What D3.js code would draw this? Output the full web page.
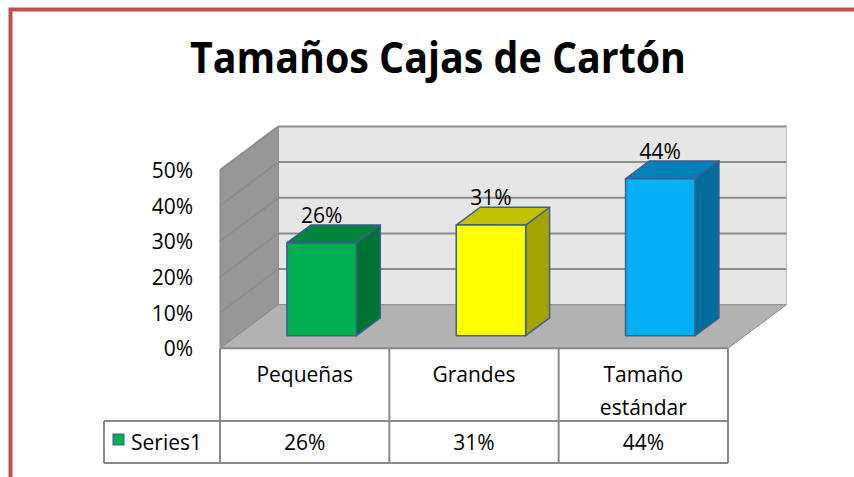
<!DOCTYPE html>
<html>
<head>
<meta charset="utf-8">
<script src="https://cdn.jsdelivr.net/npm/d3@7"></script>
<style>
  html, body { margin: 0; padding: 0; background: #ffffff; }
  svg { display: block; }
  text { font-family: "Open Sans", "Noto Sans", sans-serif; fill: #000; }
</style>
</head>
<body>
<svg id="chart" width="854" height="477"></svg>
<script>
// ---- data ----
const chartTitle = "Tamaños Cajas de Cartón";
const categories = ["Pequeñas", "Grandes", "Tamaño estándar"];
const categoryLines = [["Pequeñas"], ["Grandes"], ["Tamaño", "estándar"]];
const seriesName = "Series1";
const values = [0.26, 0.31, 0.44];
const tickValues = [0, 0.1, 0.2, 0.3, 0.4, 0.5];

// ---- styles ----
const frontColors = ["#00b050", "#ffff00", "#00b0f0"];
const topColors   = ["#00843c", "#c2c200", "#0081b8"];
const sideColors  = ["#007232", "#a4a400", "#006d9a"];
const outline = "#3d5f8c";
const gridColor = "#8c8c8c";
const tableLine = "#8a8a8a";
const fs = 21;

const svg = d3.select("#chart");

// border (only top and left visible in the frame)
svg.append("rect")
  .attr("x", 10.5).attr("y", 9.5)
  .attr("width", 900).attr("height", 500)
  .attr("fill", "none").attr("stroke", "#c0504d").attr("stroke-width", 4);

// title
svg.append("text")
  .attr("x", 438).attr("y", 73)
  .attr("text-anchor", "middle")
  .attr("font-size", 43).attr("font-weight", 700)
  .attr("textLength", 496).attr("lengthAdjust", "spacingAndGlyphs")
  .text(chartTitle);

// ---- 3D geometry ----
const x0 = 220, x1 = 728;
const y = d3.scaleLinear().domain([0, 0.5]).range([348.3, 170]);
const x = d3.scaleBand().domain(categories).range([x0, x1]).paddingInner(0).paddingOuter(0);
const DX = 58.4, DY = -43.6;           // depth offset of the back plane
const f0 = 0.29, f1 = 0.70;            // bar depth span (fraction)
const barFrac = 0.41;                  // bar width as fraction of band

const P = (px, py, f) => [px + DX * f, py + DY * f];
const poly = pts => "M" + pts.map(p => p.join(",")).join("L") + "Z";

const yTopPlane = y(0.5), yBotPlane = y(0);

// back wall
svg.append("path")
  .attr("d", poly([P(x0, yTopPlane, 1), P(x1, yTopPlane, 1), P(x1, yBotPlane, 1), P(x0, yBotPlane, 1)]))
  .attr("fill", "#e6e6e6").attr("stroke", "#b8b8b8").attr("stroke-width", 1);
// left wall
svg.append("path")
  .attr("d", poly([P(x0, yTopPlane, 0), P(x0, yTopPlane, 1), P(x0, yBotPlane, 1), P(x0, yBotPlane, 0)]))
  .attr("fill", "#979797").attr("stroke", "#888").attr("stroke-width", 1);
// floor
svg.append("path")
  .attr("d", poly([P(x0, yBotPlane, 0), P(x1, yBotPlane, 0), P(x1, yBotPlane, 1), P(x0, yBotPlane, 1)]))
  .attr("fill", "#b2b2b2").attr("stroke", "#8a8a8a").attr("stroke-width", 1);

// gridlines on back and left walls
tickValues.filter(t => t > 0).forEach(t => {
  const gy = y(t);
  svg.append("path")
    .attr("d", "M" + P(x0, gy, 0).join(",") + "L" + P(x0, gy, 1).join(",") + "L" + P(x1, gy, 1).join(","))
    .attr("fill", "none").attr("stroke", gridColor).attr("stroke-width", 2);
});
// floor front edge
svg.append("line")
  .attr("x1", x0).attr("x2", x1).attr("y1", yBotPlane).attr("y2", yBotPlane)
  .attr("stroke", tableLine).attr("stroke-width", 2);

// y axis labels
const yAxis = d3.axisLeft(y).tickValues(tickValues).tickFormat(d3.format(".0%")).tickSize(0).tickPadding(4);
const ag = svg.append("g").attr("transform", "translate(197,0)").call(yAxis);
ag.select(".domain").remove();
ag.selectAll("text").attr("font-size", fs).attr("font-family", "'Open Sans', sans-serif").attr("fill", "#000").attr("dy", "0.36em");

// bars
const bw = x.bandwidth() * barFrac;
categories.forEach((c, i) => {
  const v = values[i];
  const xl = x(c) + (x.bandwidth() - bw) / 2, xr = xl + bw;
  const yt = y(v), yb = y(0);
  const g = svg.append("g");
  g.append("path")
    .attr("d", poly([P(xr, yt, f0), P(xr, yt, f1), P(xr, yb, f1), P(xr, yb, f0)]))
    .attr("fill", sideColors[i]).attr("stroke", outline).attr("stroke-width", 1.5).attr("stroke-linejoin", "round");
  g.append("path")
    .attr("d", poly([P(xl, yt, f0), P(xr, yt, f0), P(xr, yt, f1), P(xl, yt, f1)]))
    .attr("fill", topColors[i]).attr("stroke", outline).attr("stroke-width", 1.5).attr("stroke-linejoin", "round");
  g.append("path")
    .attr("d", poly([P(xl, yt, f0), P(xr, yt, f0), P(xr, yb, f0), P(xl, yb, f0)]))
    .attr("fill", frontColors[i]).attr("stroke", outline).attr("stroke-width", 1.5).attr("stroke-linejoin", "round");
  const lp = P((xl + xr) / 2, yt, f1);
  svg.append("text")
    .attr("x", P((xl + xr) / 2, yt, f0)[0]).attr("y", lp[1] - 2)
    .attr("text-anchor", "middle").attr("font-size", fs)
    .text(d3.format(".0%")(v));
});

// ---- data table ----
const tTop = yBotPlane, tMid = 421, tBot = 463, tLeft = 104;
const tg = svg.append("g").attr("stroke", tableLine).attr("stroke-width", 2).attr("fill", "none");
tg.append("line").attr("x1", tLeft).attr("x2", x1).attr("y1", tMid).attr("y2", tMid);
tg.append("line").attr("x1", tLeft).attr("x2", x1).attr("y1", tBot).attr("y2", tBot);
tg.append("line").attr("x1", tLeft).attr("x2", tLeft).attr("y1", tMid).attr("y2", tBot);
[x0, ...categories.map(c => x(c) + x.bandwidth())].forEach(vx => {
  tg.append("line").attr("x1", vx).attr("x2", vx).attr("y1", tTop).attr("y2", tBot);
});

categories.forEach((c, i) => {
  const cx = x(c) + x.bandwidth() / 2;
  categoryLines[i].forEach((ln, j) => {
    svg.append("text")
      .attr("x", cx).attr("y", 382 + j * 33)
      .attr("text-anchor", "middle").attr("font-size", fs)
      .text(ln);
  });
  svg.append("text")
    .attr("x", cx).attr("y", 450)
    .attr("text-anchor", "middle").attr("font-size", fs)
    .text(d3.format(".0%")(values[i]));
});

// legend key in table
svg.append("rect")
  .attr("x", 113).attr("y", 434).attr("width", 11).attr("height", 11)
  .attr("fill", frontColors[0]).attr("stroke", outline).attr("stroke-width", 1);
svg.append("text")
  .attr("x", 131).attr("y", 450).attr("font-size", fs)
  .text(seriesName);
</script>
</body>
</html>
